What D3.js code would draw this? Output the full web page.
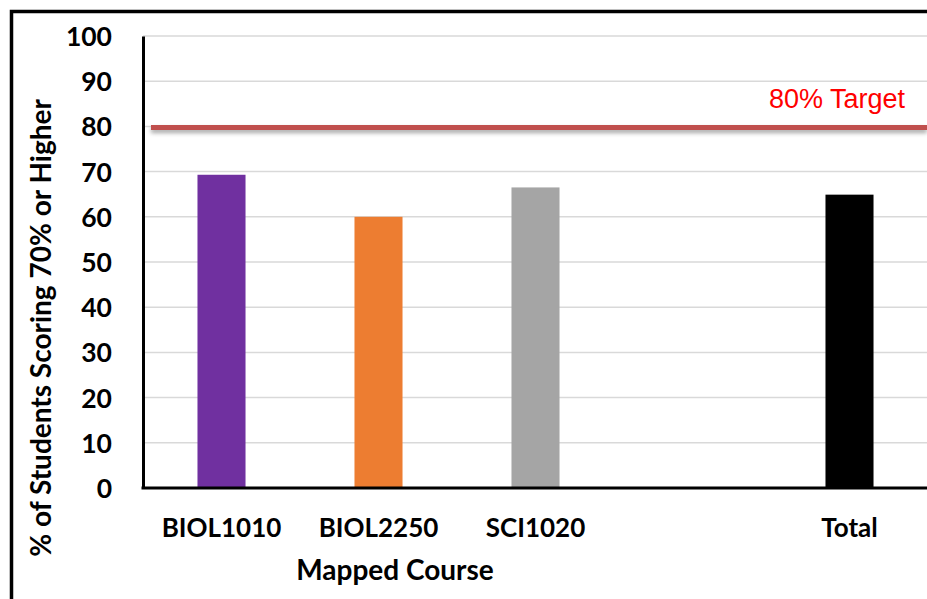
<!DOCTYPE html>
<html><head><meta charset="utf-8">
<script src="https://cdn.jsdelivr.net/npm/d3@7"></script>
<style>html,body{margin:0;padding:0;background:#fff;}svg{display:block;}</style>
</head><body>
<script>
const categories = ["BIOL1010", "BIOL2250", "SCI1020", "", "Total"];
const values = [69.3, 60.0, 66.5, null, 64.9];
const colors = ["#7030a0", "#ed7d31", "#a5a5a5", "#ffffff", "#000000"];
const yTicks = [0, 10, 20, 30, 40, 50, 60, 70, 80, 90, 100];
const targetValue = [80];
const targetLabel = "80% Target";
const yTitle = "% of Students Scoring 70% or Higher";
const xTitle = "Mapped Course";

(function () {
const W = 927, H = 599;
const svg = d3.select("body").append("svg").attr("width", W).attr("height", H);
const defs = svg.append("defs");
const f = defs.append("filter").attr("id", "sh").attr("filterUnits", "userSpaceOnUse")
  .attr("x", 0).attr("y", 0).attr("width", W).attr("height", H);
f.append("feDropShadow").attr("dx", 0).attr("dy", 3).attr("stdDeviation", 2).attr("flood-color", "#000").attr("flood-opacity", 0.35);

// outer frame
svg.append("rect").attr("x", 11.5).attr("y", 11.5).attr("width", W + 20).attr("height", H + 20)
  .attr("fill", "none").attr("stroke", "#000").attr("stroke-width", 3.5);

const pL = 143, pR = 928, pT = 36, pB = 488;
const x = d3.scaleBand().domain(categories).range([pL, pR]).paddingInner(0.694).paddingOuter(0.347);
const y = d3.scaleLinear().domain([0, 100]).range([pB, pT]);

// gridlines
svg.append("g").selectAll("line").data(yTicks.filter(d => d > 0)).join("line")
  .attr("x1", pL).attr("x2", W).attr("y1", d => y(d)).attr("y2", d => y(d))
  .attr("stroke", "#d9d9d9").attr("stroke-width", 1.5);

// bars
svg.append("g").selectAll("rect").data(categories.map((c, i) => ({c, v: values[i], col: colors[i]})).filter(d => d.v != null)).join("rect")
  .attr("x", d => x(d.c)).attr("width", x.bandwidth())
  .attr("y", d => y(d.v)).attr("height", d => y(0) - y(d.v))
  .attr("fill", d => d.col);

// target line
svg.append("g").selectAll("line").data(targetValue).join("line")
  .attr("x1", 151).attr("x2", W).attr("y1", d => y(d) + 1).attr("y2", d => y(d) + 1)
  .attr("stroke", "#c0504d").attr("stroke-width", 5).attr("filter", "url(#sh)");
svg.append("text").attr("x", 905).attr("y", y(targetValue[0]) - 18)
  .attr("text-anchor", "end").attr("font-family", "Liberation Sans, Arial, sans-serif")
  .attr("font-size", 27).attr("fill", "#ff0000").text(targetLabel);

// axes
const yAxis = d3.axisLeft(y).tickValues(yTicks).tickSize(0).tickPadding(31);
const gy = svg.append("g").attr("transform", `translate(${pL},0)`).call(yAxis);
gy.select(".domain").attr("stroke", "#000").attr("stroke-width", 3);
gy.selectAll("text").attr("font-family", "Lato, sans-serif").attr("font-weight", "bold")
  .attr("font-size", 26.5).attr("fill", "#000").attr("dy", "0.36em");

const xAxis = d3.axisBottom(x).tickSize(0).tickPadding(31);
const gx = svg.append("g").attr("transform", `translate(0,${pB})`).call(xAxis);
gx.select(".domain").attr("stroke", "#000").attr("stroke-width", 3).attr("d", `M${pL - 1.5},0H${W}`);
gx.selectAll("text").attr("font-family", "Lato, sans-serif").attr("font-weight", "bold")
  .attr("font-size", 26).attr("fill", "#000");

// titles
svg.append("text").attr("x", 395).attr("y", 580).attr("text-anchor", "middle")
  .attr("font-family", "Lato, sans-serif").attr("font-weight", "bold").attr("font-size", 28).text(xTitle);
svg.append("text").attr("transform", "translate(51,328) rotate(-90)").attr("text-anchor", "middle")
  .attr("font-family", "Lato, sans-serif").attr("font-weight", "bold").attr("font-size", 28).text(yTitle);
})();
</script>
</body></html>
